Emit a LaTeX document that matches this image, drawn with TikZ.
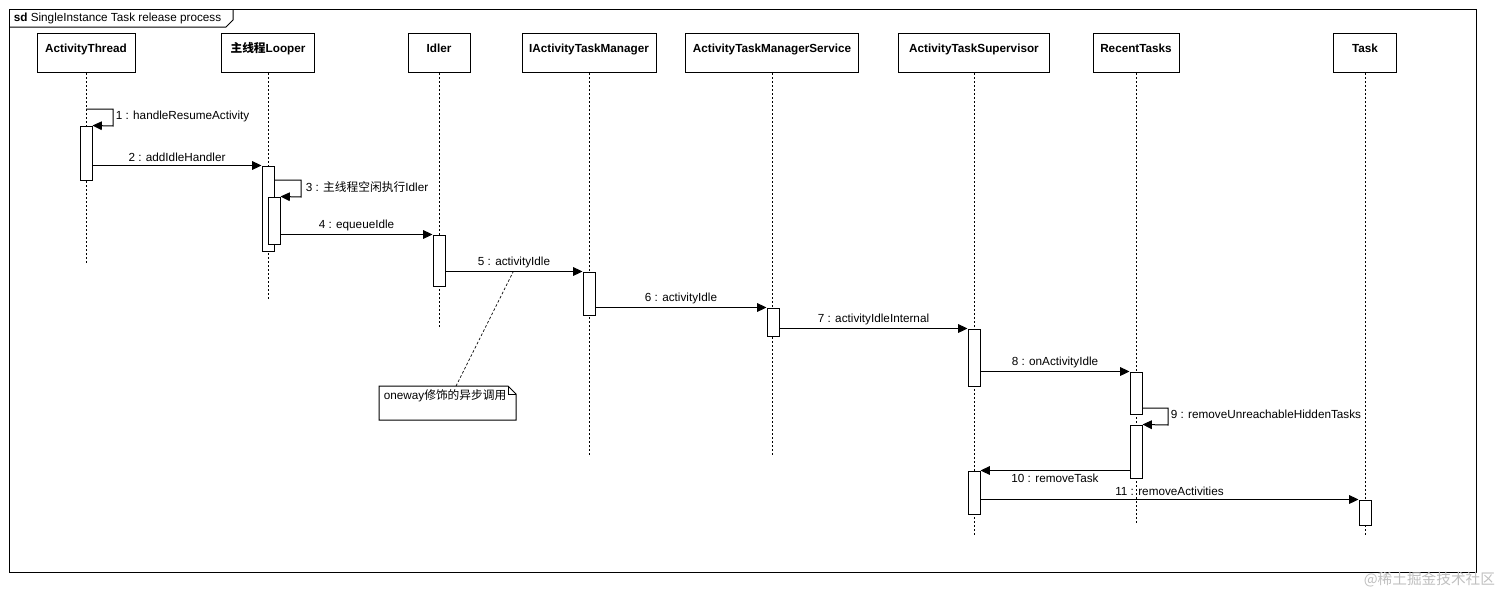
\documentclass[tikz,border=0pt]{standalone}
\usepackage{fontspec}
\setmainfont{Liberation Sans}
\newfontfamily\cjk{Noto Sans CJK SC}
\usetikzlibrary{arrows.meta}
\newcommand\actbox[4]{\node[act,minimum height={(#4-#3)*0.75pt}] (#1) at (#2,{(#3+#4)/2}) {};}
\begin{document}
\begin{tikzpicture}[x=0.75pt,y=-0.75pt,line width=0.75pt,
    font=\fontsize{8.8}{10}\selectfont,
    head/.style={draw,fill=white,minimum height=29.25pt,anchor=north,inner sep=0pt},
    act/.style={draw,fill=white,minimum width=9pt,inner sep=0pt},
    life/.style={dash pattern=on 1.5pt off 1.5pt,line width=0.6pt},
    msg/.style={-{Triangle[length=7pt,width=6.5pt]}},
    lbl/.style={inner sep=1pt},
    up/.style={above,inner sep=2.5pt}]
  \useasboundingbox (0,0) rectangle (1512,607);
  % frame
  \draw (9,9) rectangle (1476,572);
  \draw (9,27) -- (226,27) -- (233,20) -- (233,9);
  \node[anchor=west,lbl] at (12,18) {\textbf{sd} SingleInstance Task release process};
  % lifelines
  \foreach \name/\x/\w/\txt/\len in {
      at/86/98/ActivityThread/190,
      lp/268/93/{{\cjk\bfseries 主线程}Looper}/226,
      idl/439/62/Idler/254,
      iatm/589/134/IActivityTaskManager/383,
      atms/772/173/ActivityTaskManagerService/383,
      ats/974/151/ActivityTaskSupervisor/463,
      rt/1136/86/RecentTasks/451,
      task/1365/63/Task/463} {
    \node[head,minimum width=\w*0.75pt,
      label={[anchor=base,yshift=-14.5pt,text height=7pt,font=\fontsize{8.8}{10}\selectfont\bfseries]north:\txt}]
      (\name) at (\x,33) {};
    \draw[life] (\name.south) -- ++(0,\len);
  }
  % activations
  \actbox{at1}{86}{126}{180}
  \actbox{lp1}{268}{166}{251}
  \actbox{lp2}{274}{197}{244}
  \actbox{idl1}{439}{235}{286}
  \actbox{iatm1}{589}{272}{315}
  \actbox{atms1}{773}{308}{336}
  \actbox{ats1}{974}{329}{386}
  \actbox{ats2}{974}{471}{514}
  \actbox{rt1}{1136}{372}{414}
  \actbox{rt2}{1136}{425}{478}
  \actbox{task1}{1365}{500}{525}
  % messages
  \draw[msg] (86,109) -- (113,109) -- (113,126) -- (at1.north east);
  \node[anchor=west,lbl] at (114,116) {1 : handleResumeActivity};
  \draw[msg] (at1.east |- lp1.north) -- node[up] {2 : addIdleHandler} (lp1.north west);
  \draw[msg] (274,180) -- (301,180) -- (301,197) -- (lp2.north east);
  \node[anchor=west,lbl] at (304,187) {3 : {\cjk 主线程空闲执行}Idler};
  \draw[msg] (lp2.east |- idl1.north) -- node[up] {4 : equeueIdle} (idl1.north west);
  \draw[msg] (idl1.east |- iatm1.north) -- node[up] (m5) {5 : activityIdle} (iatm1.north west);
  \draw[msg] (iatm1.east |- atms1.north) -- node[up] {6 : activityIdle} (atms1.north west);
  \draw[msg] (atms1.east |- ats1.north) -- node[up] {7 : activityIdleInternal} (ats1.north west);
  \draw[msg] (ats1.east |- rt1.north) -- node[up] {8 : onActivityIdle} (rt1.north west);
  \draw[msg] (1142,408) -- (1168,408) -- (1168,425) -- (rt2.north east);
  \node[anchor=west,lbl] at (1169,414) {9 : removeUnreachableHiddenTasks};
  \draw[msg] (rt2.west |- ats2.north) -- node[below,inner sep=2pt] {10 : removeTask} (ats2.north east);
  \draw[msg] (ats2.east |- task1.north) -- node[up] {11 : removeActivities} (task1.north west);
  % note
  \draw[fill=white] (379,386) -- (508,386) -- (516,394) -- (516,420) -- (379,420) -- cycle;
  \draw (508,386) -- (508,394) -- (516,394);
  \node[anchor=west,lbl] (note) at (382,396) {oneway{\cjk 修饰的异步调用}};
  \draw[dash pattern=on 2pt off 1.5pt,line width=0.5pt] (456,386) -- (513,272);
  % watermark
  \node[anchor=east,text=black!25,font=\fontsize{11}{12}\selectfont\cjk] at (1500,580) {@稀土掘金技术社区};
\end{tikzpicture}
\end{document}
